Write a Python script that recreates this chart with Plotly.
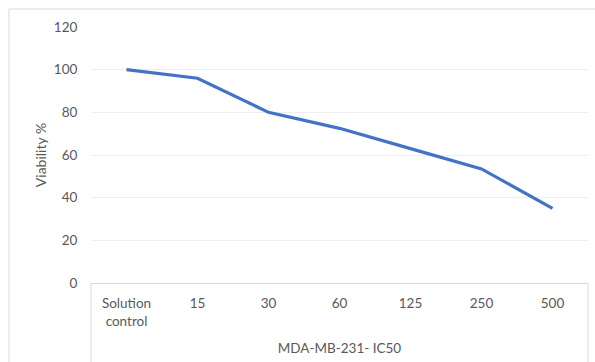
import plotly.graph_objects as go

categories = ["Solution<br>control", "15", "30", "60", "125", "250", "500"]
viability = [100, 96, 80, 72.5, 63, 53.5, 35]
y_ticks = [0, 20, 40, 60, 80, 100, 120]
x_title = "MDA-MB-231- IC50"
y_title = "Viability %"

xpos = list(range(len(categories)))
font_family = "Lato, 'Open Sans', sans-serif"
txt = "#595959"

fig = go.Figure()
fig.add_trace(go.Scatter(
    x=xpos, y=viability, mode="lines",
    line=dict(color="#4472C4", width=3.2),
    hoverinfo="skip", showlegend=False,
))

W, H = 595, 362
L, R, T, B = 91, 7, 27, 79
pw, ph = W - L - R, H - T - B

def px_x(p):
    return (p - L) / pw

def px_y(p):
    return (H - B - p) / ph

fig.update_layout(
    width=W, height=H,
    margin=dict(l=L, r=R, t=T, b=B),
    paper_bgcolor="white", plot_bgcolor="white",
    font=dict(family=font_family, size=13.5, color=txt),
    xaxis=dict(
        range=[-0.5, len(categories) - 0.5],
        tickmode="array", tickvals=xpos, ticktext=categories,
        showgrid=False, zeroline=False,
        showline=True, linecolor="#d9d9d9", linewidth=1,
        ticks="outside", ticklen=8, tickcolor="rgba(0,0,0,0)",
        fixedrange=True,
        title=dict(text=x_title, standoff=15, font=dict(size=13.5, color=txt)),
    ),
    yaxis=dict(
        range=[0, 120],
        tickmode="array", tickvals=y_ticks,
        showgrid=True, gridcolor="#eeeeee", gridwidth=1,
        zeroline=False, showline=False,
        ticks="outside", ticklen=10, tickcolor="rgba(0,0,0,0)",
        title=dict(text=y_title, standoff=3, font=dict(size=14, color=txt)),
        fixedrange=True,
    ),
    shapes=[
        dict(type="line", xref="paper", yref="paper", x0=0, x1=0, y0=0, y1=px_y(H + 5),
             line=dict(color="#d9d9d9", width=1)),
        dict(type="line", xref="paper", yref="paper", x0=1, x1=1, y0=0, y1=px_y(H + 5),
             line=dict(color="#d9d9d9", width=1)),
        dict(type="line", xref="paper", yref="paper", x0=px_x(9), x1=px_x(W + 5), y0=px_y(9), y1=px_y(9),
             line=dict(color="#d9d9d9", width=1)),
        dict(type="line", xref="paper", yref="paper", x0=px_x(9), x1=px_x(9), y0=px_y(9), y1=px_y(H + 5),
             line=dict(color="#d9d9d9", width=1)),
    ],
)

fig.write_html("out.html")
